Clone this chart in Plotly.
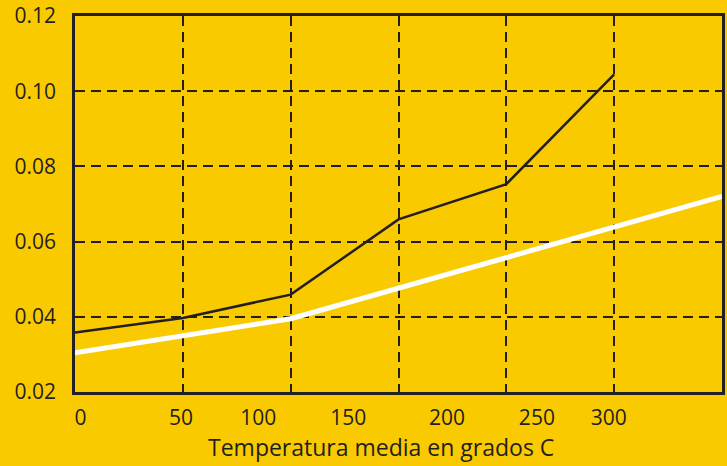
import plotly.graph_objects as go

# Data (temperature in grid units where gridlines are at 60,120,...,300)
x_black = [0, 60, 120, 180, 240, 300]
y_black = [0.0358, 0.0397, 0.0459, 0.0659, 0.0753, 0.1045]

x_white = [0, 120, 360]
y_white = [0.0304, 0.0395, 0.0720]

tick_labels = ["0", "50", "100", "150", "200", "250", "300"]
tick_pos = [3, 59, 102, 152, 207, 257, 297]
grid_x = [60, 120, 180, 240, 300]
y_ticks = [0.02, 0.04, 0.06, 0.08, 0.10, 0.12]
y_tick_text = ["0.02", "0.04", "0.06", "0.08", "0.10", "0.12"]
x_title = "Temperatura media en grados C"

BG = "#FACA00"
INK = "#231F20"
FONT = "Open Sans"

fig = go.Figure()
fig.add_trace(go.Scatter(x=x_white, y=y_white, mode="lines",
                         line=dict(color="white", width=5), hoverinfo="skip"))
fig.add_trace(go.Scatter(x=x_black, y=y_black, mode="lines",
                         line=dict(color=INK, width=2.5), hoverinfo="skip"))
# invisible trace on overlay axis for vertical gridlines
fig.add_trace(go.Scatter(x=[0, 360], y=[0.02, 0.12], mode="lines",
                         line=dict(width=0), xaxis="x2", hoverinfo="skip",
                         showlegend=False))

fig.add_annotation(text=x_title, xref="paper", yref="paper", x=0.473, y=0,
                   xanchor="center", yanchor="middle", yshift=-55,
                   showarrow=False, font=dict(size=23, family=FONT, color=INK))

fig.update_layout(
    width=727, height=466,
    paper_bgcolor=BG, plot_bgcolor=BG,
    margin=dict(l=75, r=5, t=16, b=74),
    showlegend=False,
    font=dict(family=FONT, color=INK, size=21),
    xaxis=dict(range=[0, 360], tickvals=tick_pos, ticktext=tick_labels,
               showgrid=False, zeroline=False, showline=True, linecolor=INK,
               linewidth=2.5, mirror=True, ticks="", ticklabelstandoff=5,
               automargin=False,
               tickfont=dict(size=21, family=FONT, color=INK)),
    xaxis2=dict(range=[0, 360], overlaying="x", tickvals=grid_x,
                showticklabels=False, showgrid=True, gridcolor=INK,
                gridwidth=2, griddash="10px,6px", zeroline=False,
                showline=False, ticks="", automargin=False),
    yaxis=dict(range=[0.02, 0.12], tickvals=y_ticks, ticktext=y_tick_text,
               showgrid=True, gridcolor=INK, gridwidth=2, griddash="10px,6px",
               zeroline=False, showline=True, linecolor=INK, linewidth=2.5,
               mirror=True, ticks="", ticklabelstandoff=12, automargin=False,
               tickfont=dict(size=21, family=FONT, color=INK)),
)

fig.write_html("out.html", config={"displayModeBar": False},
               post_script="document.body.style.margin='0';"
                           "document.body.style.background='" + BG + "';")
